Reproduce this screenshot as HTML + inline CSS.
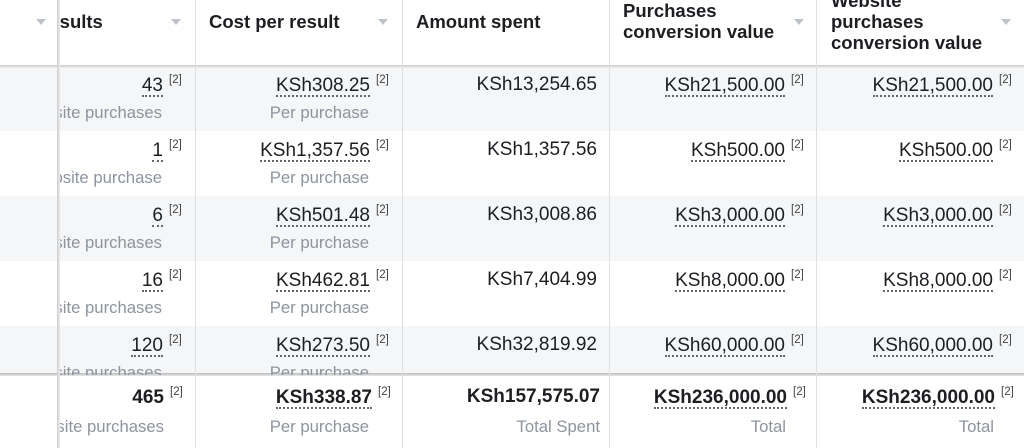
<!DOCTYPE html>
<html><head><meta charset="utf-8"><style>
body{margin:0;width:1024px;height:448px;overflow:hidden;background:#fff;font-family:"Liberation Sans",Arial,sans-serif;position:relative}
.a{position:absolute;white-space:nowrap}
.bg{position:absolute;left:0;width:1024px}
.vl{position:absolute;top:0;width:1px;height:448px;background:#dddfe2}
.h{font-weight:bold;font-size:18.5px;color:#1c1e21;line-height:21px}
.v{font-size:19px;color:#1c1e21;text-align:right;line-height:22px}
.u{border-bottom:2px dotted #666;line-height:18px;display:inline-block}
.s{font-size:16.7px;color:#8d949e;text-align:right;line-height:20px}
.ar{position:absolute;width:0;height:0;border-left:5px solid transparent;border-right:5px solid transparent;border-top:6px solid #bec3c9}
#clip{position:absolute;left:60px;top:67px;width:964px;height:308px;overflow:hidden}
#clip2{position:absolute;left:60px;top:376px;width:964px;height:72px;overflow:hidden}
</style></head><body>
<div class="bg" style="top:67px;height:64px;background:#f5f6f7"></div>
<div class="bg" style="top:196px;height:65px;background:#f5f6f7"></div>
<div class="bg" style="top:326px;height:49px;background:#f5f6f7"></div>
<div class="bg" style="top:65px;height:3px;background:linear-gradient(#ccc,#eee)"></div>
<div class="bg" style="top:373px;height:3px;background:linear-gradient(#bbb,#e8e8e8)"></div>
<div class="bg" style="top:376px;height:72px;background:#fff"></div>
<div class="vl" style="left:195px"></div>
<div class="vl" style="left:402px"></div>
<div class="vl" style="left:609px"></div>
<div class="vl" style="left:816px"></div>
<div class="a" style="left:57px;top:0;width:3px;height:448px;background:linear-gradient(90deg,#ccc,#eee)"></div>

<div class="ar" style="left:36px;top:19px"></div>
<div style="position:absolute;left:60px;top:0;width:130px;height:60px;overflow:hidden"><div class="a h" style="left:-24px;top:11px">Results</div></div>
<div class="ar" style="left:171px;top:19px"></div>
<div class="a h" style="left:209px;top:11px">Cost per result</div><div class="ar" style="left:378px;top:19px"></div>
<div class="a h" style="left:416px;top:11px">Amount spent</div>
<div class="a h" style="left:623px;top:0px">Purchases<br>conversion value</div><div class="ar" style="left:794px;top:19px"></div>
<div class="a h" style="left:831px;top:-10px">Website<br>purchases<br>conversion value</div><div class="ar" style="left:1001px;top:19px"></div>

<div id="clip"></div>
<div id="clip2"></div>
<script>
var rows=[["43","Website purchases","KSh308.25","KSh13,254.65","KSh21,500.00"],
["1","Website purchase","KSh1,357.56","KSh1,357.56","KSh500.00"],
["6","Website purchases","KSh501.48","KSh3,008.86","KSh3,000.00"],
["16","Website purchases","KSh462.81","KSh7,404.99","KSh8,000.00"],
["120","Website purchases","KSh273.50","KSh32,819.92","KSh60,000.00"]];
var OX=60;
function val(right,top,t,sup,bold,nou){
 return '<div class="a v" style="right:'+(1024-right)+'px;top:'+top+'px;'+(bold?'font-weight:bold;':'')+'"><span class="'+(nou?'':'u')+'">'+t+'</span></div>'+
 (sup?'<div class="a" style="left:'+(right+6-OX)+'px;top:'+(top-1)+'px;font-size:11.5px;color:#444">[2]</div>':'');
}
function sub(right,top,t){return '<div class="a s" style="right:'+(1024-right)+'px;top:'+top+'px">'+t+'</div>';}
var h="";
for(var i=0;i<5;i++){
 var y=i*65;
 h+=val(163,y+8,rows[i][0],1)+sub(162,y+36,rows[i][1]);
 h+=val(370,y+8,rows[i][2],1)+sub(369,y+36,"Per purchase");
 h+='<div class="a v" style="right:'+(1024-597)+'px;top:'+(y+7)+'px">'+rows[i][3]+'</div>';
 h+=val(785,y+8,rows[i][4],1)+val(993,y+8,rows[i][4],1);
}
document.getElementById("clip").innerHTML=h;
var y=11;h="";
h+=val(164,y,"465",1,1,1)+sub(164,y+30,"Website purchases");
h+=val(372,y,"KSh338.87",1,1)+sub(369,y+30,"Per purchase");
h+='<div class="a v" style="right:'+(1024-600)+'px;top:'+(y-1)+'px;font-weight:bold">KSh157,575.07</div>'+sub(600,y+30,"Total Spent");
h+=val(787,y,"KSh236,000.00",1,1)+sub(786,y+30,"Total");
h+=val(995,y,"KSh236,000.00",1,1)+sub(994,y+30,"Total");
document.getElementById("clip2").innerHTML=h;
</script>
</body></html>
